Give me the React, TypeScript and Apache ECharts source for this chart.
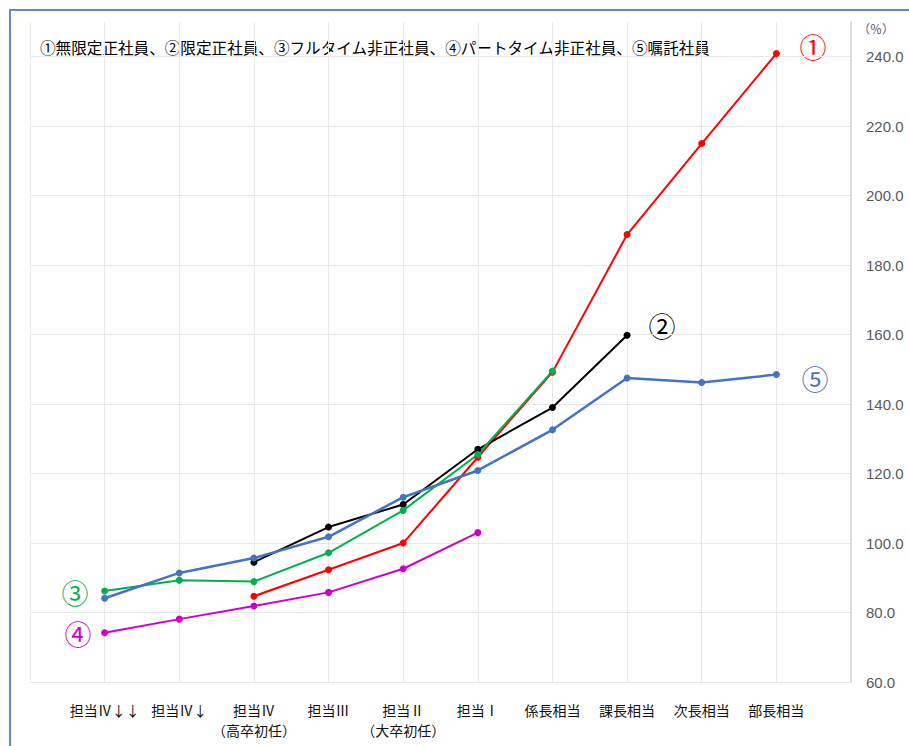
import React, { useEffect, useRef } from "react";
import * as echarts from "echarts";

const categories = [
  "担当Ⅳ↓↓",
  "担当Ⅳ↓",
  "担当Ⅳ\n（高卒初任）",
  "担当Ⅲ",
  "担当Ⅱ\n（大卒初任）",
  "担当Ⅰ",
  "係長相当",
  "課長相当",
  "次長相当",
  "部長相当",
];

const s1 = [null, null, 84.7, 92.3, 100.0, 124.7, 149.2, 188.8, 215.0, 240.9];
const s2 = [null, null, 94.5, 104.6, 111.1, 127.0, 139.0, 159.8, null, null];
const s3 = [86.2, 89.3, 88.9, 97.2, 109.4, 125.5, 149.5, null, null, null];
const s4 = [74.2, 78.1, 81.9, 85.8, 92.6, 103.0, null, null, null, null];
const s5 = [84.1, 91.4, 95.7, 101.8, 113.2, 120.9, 132.6, 147.5, 146.2, 148.5];

const yTicks = { min: 60, max: 250, interval: 20 };

const legendText =
  "①無限定正社員、②限定正社員、③フルタイム非正社員、④パートタイム非正社員、⑤嘱託社員";

const CJK = '"Noto Sans CJK JP", "Noto Sans", sans-serif';

export default function App() {
  const ref = useRef<HTMLDivElement>(null);

  useEffect(() => {
    if (!ref.current) return;
    const chart = echarts.init(ref.current, undefined, { renderer: "svg" });
    const pad = (arr: (number | null)[]) => [null, ...arr, null];
    const mk = (name: string, data: (number | null)[], color: string, width = 2) => ({
      name,
      type: "line",
      data: pad(data),
      symbol: "circle",
      symbolSize: 7,
      connectNulls: false,
      lineStyle: { color, width },
      itemStyle: { color },
      z: 3,
    });

    chart.setOption({
      animation: false,
      backgroundColor: "#ffffff",
      grid: { left: 30, right: 58, top: 22, bottom: 64, containLabel: false },
      xAxis: {
        type: "category",
        boundaryGap: false,
        data: ["", ...categories, ""],
        axisLine: { show: false },
        axisTick: { show: false },
        splitLine: { show: true, lineStyle: { color: "#e8e8e8", width: 1 } },
        axisLabel: {
          interval: 0,
          margin: 18,
          fontFamily: CJK,
          fontSize: 14,
          lineHeight: 20,
          color: "#111111",
          align: "center",
        },
      },
      yAxis: {
        type: "value",
        position: "right",
        min: yTicks.min,
        max: yTicks.max,
        interval: yTicks.interval,
        axisLine: { show: true, lineStyle: { color: "#d4d4d4", width: 1.5 } },
        axisTick: { show: false },
        splitLine: {
          show: true,
          showMaxLine: false,
          lineStyle: { color: "#e8e8e8", width: 1 },
        },
        axisLabel: {
          showMaxLabel: false,
          margin: 15,
          fontFamily: '"Liberation Sans", Arial, sans-serif',
          fontSize: 15,
          color: "#595959",
          formatter: (v: number) => v.toFixed(1),
        },
      },
      series: [
        mk("①", s1, "#ff0000"),
        mk("②", s2, "#000000"),
        mk("③", s3, "#00b050"),
        mk("④", s4, "#cc00cc"),
        mk("⑤", s5, "#4472c4", 2.5),
      ],
      graphic: [
        {
          type: "rect",
          shape: { x: 10, y: 10, width: 1200, height: 1000 },
          style: { fill: "none", stroke: "#5b8bd3", lineWidth: 2 },
          silent: true,
        },
        {
          type: "text",
          x: 40,
          y: 47,
          style: {
            text: legendText,
            fontFamily: CJK,
            fontSize: 15.6,
            fill: "#000000",
            verticalAlign: "middle",
            align: "left",
          },
        },
        {
          type: "text",
          x: 876,
          y: 28,
          style: {
            text: "（％）",
            fontFamily: CJK,
            fontSize: 12,
            fill: "#595959",
            align: "center",
            verticalAlign: "middle",
          },
        },
        { type: "text", x: 813, y: 46, style: { text: "①", fontFamily: CJK, fontSize: 27, fill: "#ff0000", align: "center", verticalAlign: "middle" } },
        { type: "text", x: 662, y: 325, style: { text: "②", fontFamily: CJK, fontSize: 27, fill: "#000000", align: "center", verticalAlign: "middle" } },
        { type: "text", x: 75, y: 592, style: { text: "③", fontFamily: CJK, fontSize: 27, fill: "#00b050", align: "center", verticalAlign: "middle" } },
        { type: "text", x: 78, y: 633, style: { text: "④", fontFamily: CJK, fontSize: 27, fill: "#cc00cc", align: "center", verticalAlign: "middle" } },
        { type: "text", x: 815, y: 378, style: { text: "⑤", fontFamily: CJK, fontSize: 27, fill: "#4472c4", align: "center", verticalAlign: "middle" } },
      ],
    });

    return () => chart.dispose();
  }, []);

  return (
    <div
      ref={ref}
      style={{ position: "fixed", left: 0, top: 0, width: 909, height: 746 }}
    />
  );
}
